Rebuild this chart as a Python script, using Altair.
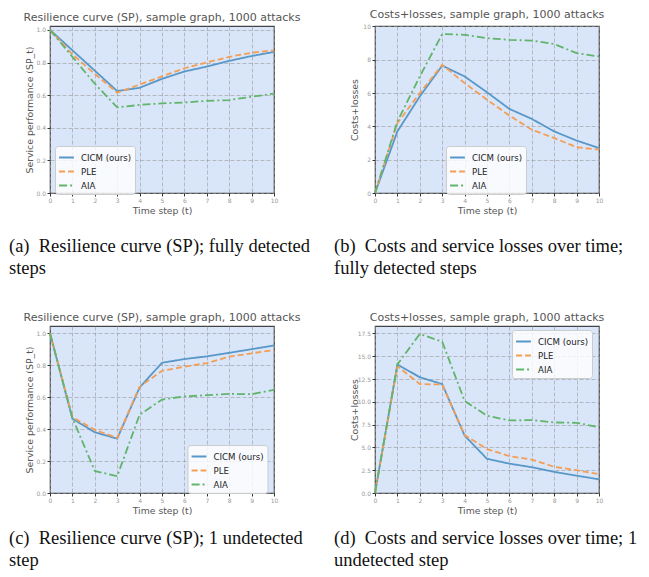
import altair as alt
import pandas as pd

steps = list(range(11))
methods = ["CICM (ours)", "PLE", "AIA"]
colors = ["#5798c9", "#f49e55", "#60b56a"]
dashes = [[1, 0], [6, 3], [8, 3, 2, 3]]

a_cicm = [1.0, 0.875, 0.75, 0.625, 0.645, 0.70, 0.745, 0.775, 0.81, 0.84, 0.865]
a_ple = [1.0, 0.85, 0.73, 0.615, 0.665, 0.715, 0.765, 0.80, 0.835, 0.86, 0.875]
a_aia = [1.0, 0.835, 0.67, 0.525, 0.54, 0.55, 0.555, 0.565, 0.57, 0.59, 0.61]

b_cicm = [0, 3.7, 5.8, 7.65, 7.0, 6.05, 5.05, 4.45, 3.7, 3.15, 2.7]
b_ple = [0, 4.2, 6.0, 7.7, 6.6, 5.6, 4.65, 3.8, 3.3, 2.75, 2.6]
b_aia = [0, 4.3, 7.0, 9.55, 9.5, 9.3, 9.2, 9.15, 8.95, 8.4, 8.2]

c_cicm = [1.0, 0.465, 0.38, 0.34, 0.66, 0.815, 0.838, 0.855, 0.877, 0.90, 0.923]
c_ple = [1.0, 0.475, 0.395, 0.345, 0.665, 0.765, 0.79, 0.813, 0.853, 0.874, 0.895]
c_aia = [1.0, 0.47, 0.138, 0.105, 0.49, 0.585, 0.604, 0.612, 0.62, 0.618, 0.646]

d_cicm = [0, 14.1, 12.7, 11.95, 6.3, 3.75, 3.22, 2.83, 2.32, 1.9, 1.5]
d_ple = [0, 13.9, 11.95, 11.9, 6.35, 4.82, 4.04, 3.67, 2.87, 2.5, 2.06]
d_aia = [0, 14.1, 17.45, 16.6, 10.1, 8.48, 7.96, 8.0, 7.74, 7.7, 7.22]

titles = [
    "Resilience curve (SP), sample graph, 1000 attacks",
    "Costs+losses, sample graph, 1000 attacks",
    "Resilience curve (SP), sample graph, 1000 attacks",
    "Costs+losses, sample graph, 1000 attacks",
]
ytitles = ["Service performance (SP_t)", "Costs+losses",
           "Service performance (SP_t)", "Costs+losses"]
captions = [
    "(a)\u2002Resilience curve (SP); fully detected\nsteps",
    "(b)\u2002Costs and service losses over time;\nfully detected steps",
    "(c)\u2002Resilience curve (SP); 1 undetected\nstep",
    "(d)\u2002Costs and service losses over time; 1\nundetected step",
]
ytick_sets = [
    [0, 0.2, 0.4, 0.6, 0.8, 1.0],
    [0, 2, 4, 6, 8, 10],
    [0, 0.2, 0.4, 0.6, 0.8, 1.0],
    [0, 2.5, 5, 7.5, 10, 12.5, 15, 17.5],
]
yformats = [".1f", "d", ".1f", ".1f"]
ytops = [1.024, 10.03, 1.045, 18.32]
legend_pos = [(5, 120), (71, 120), (137.5, 119), (137, 4)]
caption_y = [226, 226, 218, 218]

series = [
    (a_cicm, a_ple, a_aia),
    (b_cicm, b_ple, b_aia),
    (c_cicm, c_ple, c_aia),
    (d_cicm, d_ple, d_aia),
]

W, H = 224, 167


def panel(i):
    rows = []
    for m, vals in zip(methods, series[i]):
        for t, v in zip(steps, vals):
            rows.append({"t": t, "value": v, "method": m})
    df = pd.DataFrame(rows)
    lx, ly = legend_pos[i]
    leg = alt.Legend(title=None, orient="none", legendX=lx, legendY=ly)
    lines = alt.Chart(df).mark_line(strokeWidth=1.8).encode(
        x=alt.X("t:Q", scale=alt.Scale(domain=[0, 10], nice=False),
                axis=alt.Axis(values=steps, format="d", title="Time step (t)",
                              titleY=17, titleBaseline="middle")),
        y=alt.Y("value:Q", scale=alt.Scale(domain=[0, ytops[i]], nice=False, zero=True),
                axis=alt.Axis(values=ytick_sets[i], format=yformats[i], title=ytitles[i],
                              titleX=-20.5, titleY=H / 2, titleBaseline="middle")),
        color=alt.Color("method:N", scale=alt.Scale(domain=methods, range=colors), legend=leg),
        strokeDash=alt.StrokeDash("method:N", scale=alt.Scale(domain=methods, range=dashes),
                                  legend=leg),
        order="t:Q",
    )
    cap = alt.Chart(pd.DataFrame({"text": [captions[i]]})).mark_text(
        align="left", baseline="alphabetic", font="Liberation Serif", fontSize=18.5,
        lineHeight=21.5, lineBreak="\n", color="#111111",
    ).encode(x=alt.value(-41), y=alt.value(caption_y[i]), text="text:N")
    return alt.layer(lines, cap).properties(
        width=W, height=H,
        title=alt.TitleParams(titles[i], fontSize=11, color="#555555", fontWeight="normal",
                              font="DejaVu Sans", anchor="middle", offset=3),
    )


chart = alt.concat(
    panel(0), panel(1), panel(2), panel(3), columns=2,
    spacing={"row": 133, "column": 101}, bounds="flush",
).resolve_scale(
    color="independent", strokeDash="independent"
).resolve_legend(
    color="independent", strokeDash="independent"
).properties(
    padding={"left": 0, "top": 0, "right": 0, "bottom": 0}
).configure(
    font="DejaVu Sans"
).configure_view(
    fill="#d9e5f9", stroke="#444444", strokeWidth=1.2
).configure_axis(
    labelFontSize=6, labelColor="#999999", tickColor="#333333", tickSize=3,
    labelPadding=1.5, domain=False, grid=True, gridColor="#999999", gridOpacity=0.75,
    gridDash=[4, 2], gridWidth=0.8, titleFontSize=9.3, titleColor="#555555",
    titleFontWeight="normal", labelFlush=False, labelOverlap=False,
).configure_legend(
    fillColor="rgba(255,255,255,0.8)", strokeColor="#cccccc", cornerRadius=3,
    padding=3, labelFontSize=8.6, labelColor="#222222", symbolType="stroke",
    symbolSize=220, symbolStrokeWidth=1.8, rowPadding=0, labelOffset=6,
)

chart.save("out.html", embed_options={"renderer": "svg", "actions": False})
